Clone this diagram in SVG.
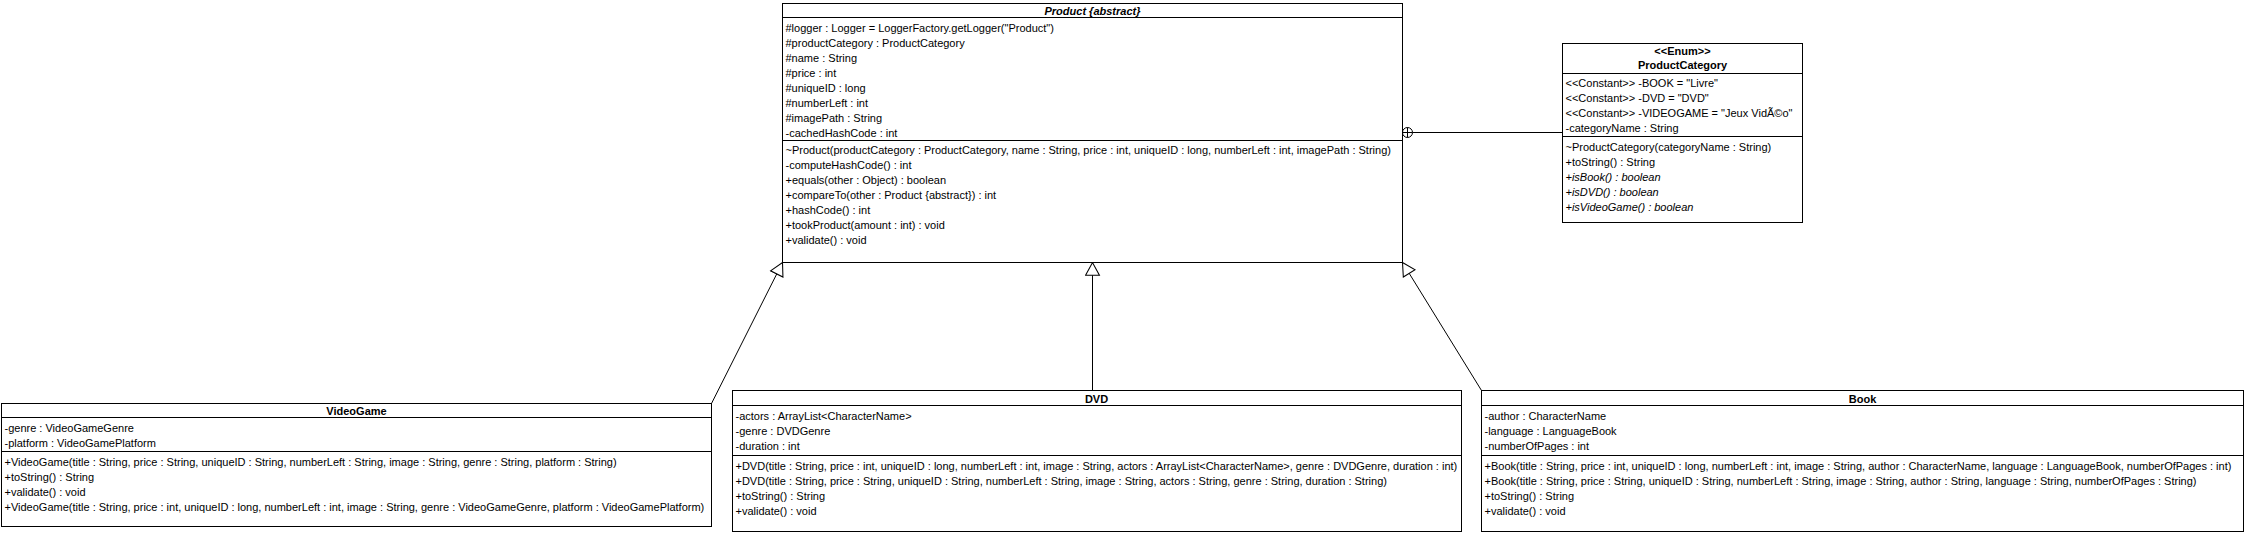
<svg xmlns="http://www.w3.org/2000/svg" width="2246" height="536" viewBox="0 0 2246 536">
<style>
.box{fill:#fff;stroke:#000;stroke-width:1}
.sep{stroke:#000;stroke-width:1}
text{font-family:"Liberation Sans",Arial,sans-serif;font-size:11px;fill:#000}
.t{font-weight:bold;text-anchor:middle}
.ti{font-weight:bold;font-style:italic;text-anchor:middle}
.i{font-style:italic}
.con{stroke:#000;stroke-width:1;fill:none}
</style>
<defs>
<marker id="gen" markerUnits="userSpaceOnUse" markerWidth="16" markerHeight="16" viewBox="-1 -1 15 15" refX="12" refY="6.5" orient="auto">
<path d="M0,0 L12,6.5 L0,13 Z" fill="#fff" stroke="#000" stroke-width="1"/>
</marker>
</defs>
<rect width="2246" height="536" fill="#fff"/>
<g transform="translate(0.5,0.5)">
<g id="connectors">
<line class="con" x1="711" y1="403" x2="782" y2="262" marker-end="url(#gen)"/>
<line class="con" x1="1092" y1="390" x2="1092" y2="262" marker-end="url(#gen)"/>
<line class="con" x1="1481" y1="390" x2="1402" y2="262" marker-end="url(#gen)"/>
<line class="con" x1="1412" y1="132" x2="1562" y2="132"/>
<circle class="con" cx="1407" cy="132" r="5" fill="#fff"/>
<line class="con" x1="1402" y1="132" x2="1412" y2="132"/>
<line class="con" x1="1407" y1="127" x2="1407" y2="137"/>
</g>
<g id="Product">
<rect class="box" x="782" y="3" width="620" height="259"/>
<line class="sep" x1="782" y1="17" x2="1402" y2="17"/>
<line class="sep" x1="782" y1="140" x2="1402" y2="140"/>
<text class="ti" x="1092" y="14">Product {abstract}</text>
<text x="785" y="31">#logger : Logger = LoggerFactory.getLogger("Product")</text>
<text x="785" y="46">#productCategory : ProductCategory</text>
<text x="785" y="61">#name : String</text>
<text x="785" y="76">#price : int</text>
<text x="785" y="91">#uniqueID : long</text>
<text x="785" y="106">#numberLeft : int</text>
<text x="785" y="121">#imagePath : String</text>
<text x="785" y="136">-cachedHashCode : int</text>
<text x="785" y="153">~Product(productCategory : ProductCategory, name : String, price : int, uniqueID : long, numberLeft : int, imagePath : String)</text>
<text x="785" y="168">-computeHashCode() : int</text>
<text x="785" y="183">+equals(other : Object) : boolean</text>
<text x="785" y="198">+compareTo(other : Product {abstract}) : int</text>
<text x="785" y="213">+hashCode() : int</text>
<text x="785" y="228">+tookProduct(amount : int) : void</text>
<text x="785" y="243">+validate() : void</text>
</g>
<g id="ProductCategory">
<rect class="box" x="1562" y="43" width="240" height="179"/>
<line class="sep" x1="1562" y1="73" x2="1802" y2="73"/>
<line class="sep" x1="1562" y1="136" x2="1802" y2="136"/>
<text class="t" x="1682" y="54">&lt;&lt;Enum&gt;&gt;</text>
<text class="t" x="1682" y="68">ProductCategory</text>
<text x="1565" y="86">&lt;&lt;Constant&gt;&gt; -BOOK = "Livre"</text>
<text x="1565" y="101">&lt;&lt;Constant&gt;&gt; -DVD = "DVD"</text>
<text x="1565" y="116">&lt;&lt;Constant&gt;&gt; -VIDEOGAME = "Jeux VidÃ©o"</text>
<text x="1565" y="131">-categoryName : String</text>
<text x="1565" y="150">~ProductCategory(categoryName : String)</text>
<text x="1565" y="165">+toString() : String</text>
<text class="i" x="1565" y="180">+isBook() : boolean</text>
<text class="i" x="1565" y="195">+isDVD() : boolean</text>
<text class="i" x="1565" y="210">+isVideoGame() : boolean</text>
</g>
<g id="VideoGame">
<rect class="box" x="1" y="403" width="710" height="123"/>
<line class="sep" x1="1" y1="417" x2="711" y2="417"/>
<line class="sep" x1="1" y1="451" x2="711" y2="451"/>
<text class="t" x="356" y="414">VideoGame</text>
<text x="4" y="431">-genre : VideoGameGenre</text>
<text x="4" y="446">-platform : VideoGamePlatform</text>
<text x="4" y="465">+VideoGame(title : String, price : String, uniqueID : String, numberLeft : String, image : String, genre : String, platform : String)</text>
<text x="4" y="480">+toString() : String</text>
<text x="4" y="495">+validate() : void</text>
<text x="4" y="510">+VideoGame(title : String, price : int, uniqueID : long, numberLeft : int, image : String, genre : VideoGameGenre, platform : VideoGamePlatform)</text>
</g>
<g id="DVD">
<rect class="box" x="732" y="390" width="729" height="141"/>
<line class="sep" x1="732" y1="405" x2="1461" y2="405"/>
<line class="sep" x1="732" y1="455" x2="1461" y2="455"/>
<text class="t" x="1096" y="402">DVD</text>
<text x="735" y="419">-actors : ArrayList&lt;CharacterName&gt;</text>
<text x="735" y="434">-genre : DVDGenre</text>
<text x="735" y="449">-duration : int</text>
<text x="735" y="469">+DVD(title : String, price : int, uniqueID : long, numberLeft : int, image : String, actors : ArrayList&lt;CharacterName&gt;, genre : DVDGenre, duration : int)</text>
<text x="735" y="484">+DVD(title : String, price : String, uniqueID : String, numberLeft : String, image : String, actors : String, genre : String, duration : String)</text>
<text x="735" y="499">+toString() : String</text>
<text x="735" y="514">+validate() : void</text>
</g>
<g id="Book">
<rect class="box" x="1481" y="390" width="762" height="141"/>
<line class="sep" x1="1481" y1="405" x2="2243" y2="405"/>
<line class="sep" x1="1481" y1="455" x2="2243" y2="455"/>
<text class="t" x="1862" y="402">Book</text>
<text x="1484" y="419">-author : CharacterName</text>
<text x="1484" y="434">-language : LanguageBook</text>
<text x="1484" y="449">-numberOfPages : int</text>
<text x="1484" y="469">+Book(title : String, price : int, uniqueID : long, numberLeft : int, image : String, author : CharacterName, language : LanguageBook, numberOfPages : int)</text>
<text x="1484" y="484">+Book(title : String, price : String, uniqueID : String, numberLeft : String, image : String, author : String, language : String, numberOfPages : String)</text>
<text x="1484" y="499">+toString() : String</text>
<text x="1484" y="514">+validate() : void</text>
</g>
</g>
</svg>
